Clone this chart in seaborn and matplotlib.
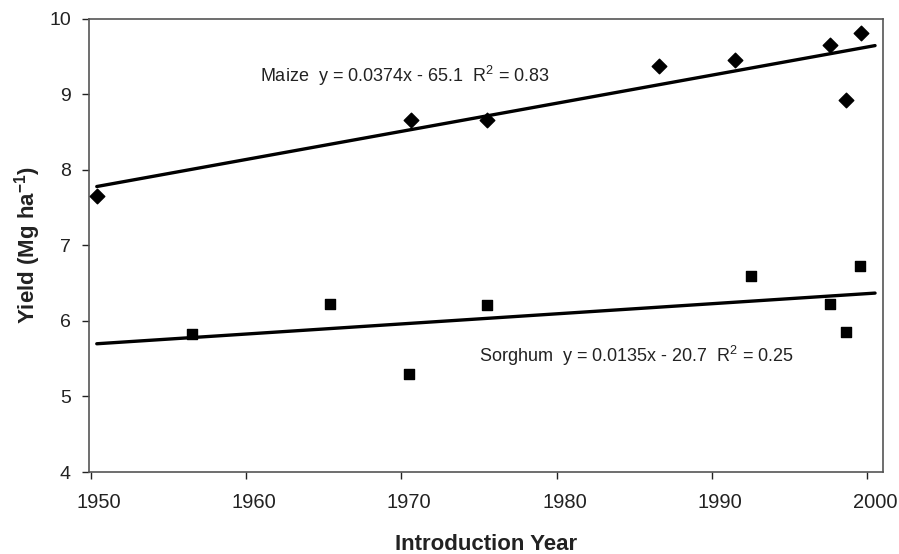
import numpy as np
import pandas as pd
import matplotlib
matplotlib.use("Agg")
import matplotlib.pyplot as plt
import matplotlib.transforms as mtransforms
import seaborn as sns

# values
maize_year = [1950.4, 1970.6, 1975.5, 1986.6, 1991.5, 1997.6, 1998.6, 1999.6]
maize_yield = [7.65, 8.66, 8.66, 9.38, 9.45, 9.66, 8.92, 9.81]
sorghum_year = [1956.5, 1965.4, 1970.5, 1975.5, 1992.5, 1997.6, 1998.6, 1999.5]
sorghum_yield = [5.83, 6.23, 5.30, 6.21, 6.59, 6.23, 5.85, 6.73]

maize_label = 'Maize  y = 0.0374x - 65.1  R$^2$ = 0.83'
sorghum_label = 'Sorghum  y = 0.0135x - 20.7  R$^2$ = 0.25'
x_ticks = [1950, 1960, 1970, 1980, 1990, 2000]
y_ticks = [4, 5, 6, 7, 8, 9, 10]

sns.set_style('ticks')
plt.rcParams['font.family'] = ['Liberation Sans', 'DejaVu Sans']
plt.rcParams['mathtext.fontset'] = 'custom'
plt.rcParams['mathtext.rm'] = 'Liberation Sans'
plt.rcParams['mathtext.it'] = 'Liberation Sans'
plt.rcParams['mathtext.bf'] = 'Liberation Sans:bold'

maize = pd.DataFrame({'year': maize_year, 'yield': maize_yield})
sorghum = pd.DataFrame({'year': sorghum_year, 'yield': sorghum_yield})

fig = plt.figure(figsize=(8.99, 5.54), dpi=100)
ax = fig.add_axes([0.099, 0.148, 0.883, 0.818])

# trendlines span the fitted range (like the spreadsheet trendline)
ax.set_xlim(1950.4, 2000.5)
ax.set_ylim(4, 10)
line_kws = {'color': 'black', 'lw': 2.4}
sns.regplot(data=maize, x='year', y='yield', ax=ax, ci=None, truncate=False,
            marker='D', color='black',
            scatter_kws={'s': 55, 'alpha': 1, 'edgecolor': 'black', 'zorder': 3},
            line_kws=line_kws)
sns.regplot(data=sorghum, x='year', y='yield', ax=ax, ci=None, truncate=False,
            marker='s', color='black',
            scatter_kws={'s': 45, 'alpha': 1, 'edgecolor': 'black', 'zorder': 3},
            line_kws=line_kws)

ax.set_xlim(1949.9, 2001.0)
ax.set_ylim(4, 10)
ax.set_xticks(x_ticks)
ax.set_yticks(y_ticks)
ax.tick_params(axis='x', length=5, width=1, pad=10, labelsize=14.5, colors='#222222')
ax.tick_params(axis='y', length=5, width=1, pad=8, labelsize=14, colors='#222222')
for side in ['left', 'right', 'top', 'bottom']:
    ax.spines[side].set_visible(True)
    ax.spines[side].set_color('#555555')
    ax.spines[side].set_linewidth(1.2)

# year labels sit a little right of their ticks in the original
shift = mtransforms.ScaledTranslation(0.08, 0, fig.dpi_scale_trans)
for lab in ax.get_xticklabels():
    lab.set_transform(lab.get_transform() + shift)

ax.text(1960.9, 9.17, maize_label, fontsize=13, color='#222222')
ax.text(1975.0, 5.46, sorghum_label, fontsize=13, color='#222222')

ax.set_xlabel('Introduction Year', fontsize=16, fontweight='bold', color='#222222')
ax.set_ylabel('Yield (Mg ha$^{\\mathbf{-1}}$)', fontsize=16, fontweight='bold', color='#222222')
ax.xaxis.label.set_va('baseline')
ax.xaxis.set_label_coords(0.5, -0.172)
ax.yaxis.label.set_va('center')
ax.yaxis.set_label_coords(-0.078, 0.5)

fig.savefig('out.png', dpi=100)
